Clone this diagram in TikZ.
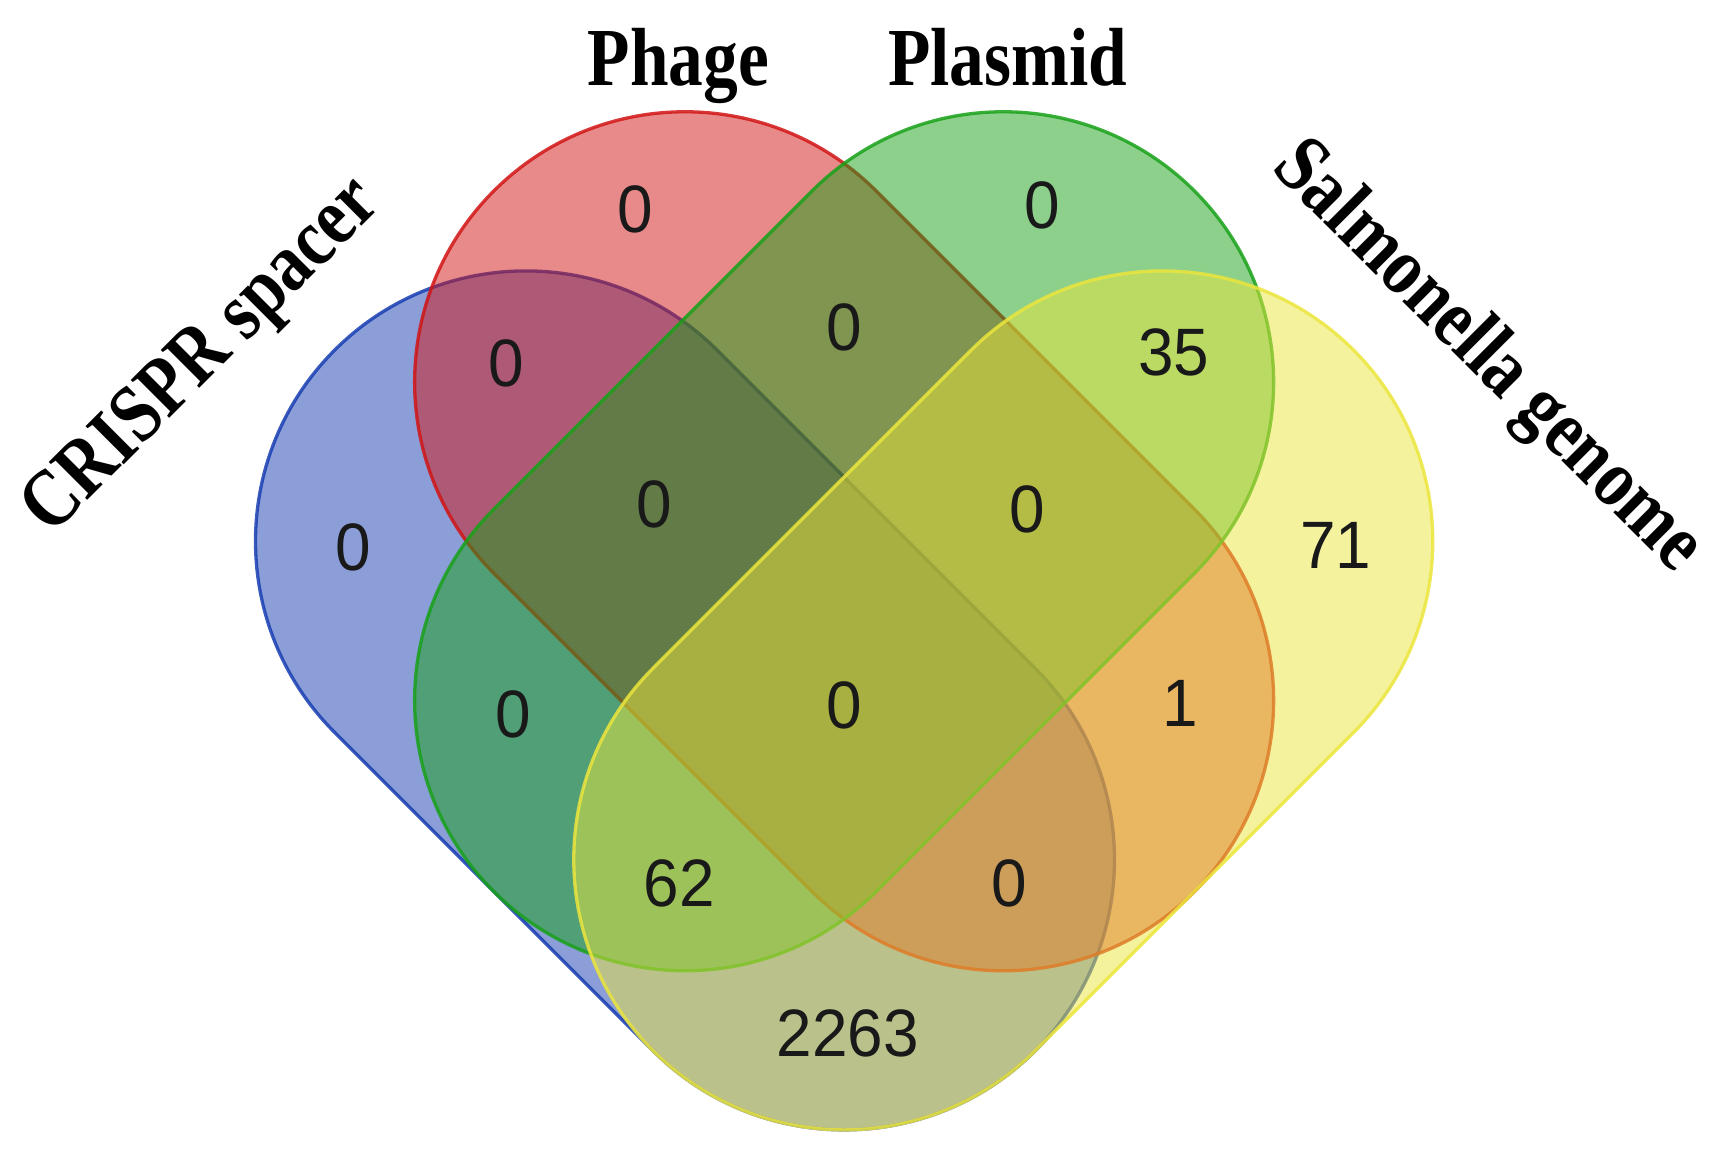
\documentclass[tikz,border=0pt]{standalone}
\usepackage{fontspec}
\setmainfont{Liberation Serif}
\newfontfamily\numfont{Liberation Sans}
\usetikzlibrary{shapes.misc}
\definecolor{cblue}{RGB}{23,61,177}
\definecolor{cred}{RGB}{209,21,21}
\definecolor{cgreen}{RGB}{25,161,25}
\definecolor{cyellow}{RGB}{235,229,61}
\begin{document}
\begin{tikzpicture}[x=1pt,y=1pt,
  setshape/.style={rounded rectangle, minimum width=899.7pt, minimum height=491pt,
    inner sep=0pt, outer sep=0pt, line width=3pt, fill=#1, fill opacity=0.5,
    draw=#1, draw opacity=0.85},
  count/.style={font=\numfont\fontsize{58}{60}\selectfont, text=black!90, inner sep=0pt, yscale=1.05},
  setlabel/.style={font=\bfseries\fontsize{72}{80}\selectfont, inner sep=0pt, xscale=0.875, yscale=1.04}]
\useasboundingbox (0,0) rectangle (1560,1043.3);
% sets
\node[setshape=cblue, rotate=-45] (crispr) at (622,407.3) {};
\node[setshape=cred, rotate=-45] (phage) at (766.5,551.8) {};
\node[setshape=cgreen, rotate=45] (plasmid) at (766.5,551.8) {};
\node[setshape=cyellow, rotate=45] (salm) at (911,407.3) {};
% counts
\node[count] (n1) at (577,853) {0};
\node[count] (n2) at (946,857) {0};
\node[count] (n3) at (460,713) {0};
\node[count] (n4) at (767,746) {0};
\node[count] (n5) at (1066,723) {35};
\node[count] (n6) at (321,546) {0};
\node[count] (n7) at (594,585) {0};
\node[count] (n8) at (933,581) {0};
\node[count] (n9) at (1213,548) {71};
\node[count] (n10) at (466,395) {0};
\node[count] (n11) at (767,403) {0};
\node[count] (n12) at (1072,405) {1};
\node[count] (n13) at (617,241) {62};
\node[count] (n14) at (916,241) {0};
\node[count] (n15) at (770,105) {2263};
% labels
\node[setlabel, anchor=base] (lphage) at (616,966) {Phage};
\node[setlabel, anchor=base] (lplasmid) at (915,966) {Plasmid};
\node[rotate=45, setlabel] (lcrispr) at (185,718) {CRISPR spacer};
\node[rotate=-45, setlabel] (lsalm) at (1350,718) {Salmonella genome};
\end{tikzpicture}
\end{document}
